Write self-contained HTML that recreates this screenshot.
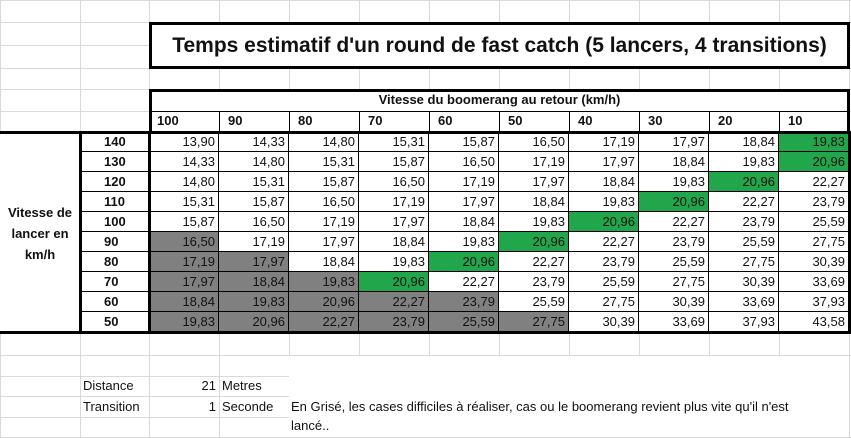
<!DOCTYPE html>
<html><head><meta charset="utf-8">
<style>
body{margin:0;width:851px;height:437px;overflow:hidden;background:#fff;font-family:"Liberation Sans",sans-serif;position:relative}
.a{position:absolute;box-sizing:border-box}
.c{font-size:13px;line-height:20px;text-align:right;padding-right:3px;color:#111}
.h{font-size:13px;font-weight:bold;line-height:20px;color:#111}
</style></head><body>
<div id="grid" class="a" style="left:0;top:0;width:851px;height:437px"></div>
<div id="root"></div>
<script>
const colHeaders=["100","90","80","70","60","50","40","30","20","10"];
const rowHeaders=["140","130","120","110","100","90","80","70","60","50"];
const values=[
["13,90","14,33","14,80","15,31","15,87","16,50","17,19","17,97","18,84","19,83"],
["14,33","14,80","15,31","15,87","16,50","17,19","17,97","18,84","19,83","20,96"],
["14,80","15,31","15,87","16,50","17,19","17,97","18,84","19,83","20,96","22,27"],
["15,31","15,87","16,50","17,19","17,97","18,84","19,83","20,96","22,27","23,79"],
["15,87","16,50","17,19","17,97","18,84","19,83","20,96","22,27","23,79","25,59"],
["16,50","17,19","17,97","18,84","19,83","20,96","22,27","23,79","25,59","27,75"],
["17,19","17,97","18,84","19,83","20,96","22,27","23,79","25,59","27,75","30,39"],
["17,97","18,84","19,83","20,96","22,27","23,79","25,59","27,75","30,39","33,69"],
["18,84","19,83","20,96","22,27","23,79","25,59","27,75","30,39","33,69","37,93"],
["19,83","20,96","22,27","23,79","25,59","27,75","30,39","33,69","37,93","43,58"]];
const grayCount=[0,0,0,0,0,1,2,3,5,6];
const greenCol=[9,9,8,7,6,5,4,3,-1,-1];

const colX=[0,80,149,219,289,359,429,499,569,639,709,779,849];
const rowY=[0,22,45,68,89,111,132,152,172,192,212,232,252,272,292,312,333,355,376,396,417,437];
const root=document.body;
function box(x,y,w,h,css){const d=document.createElement('div');d.className='a';d.style.cssText=`left:${x}px;top:${y}px;width:${w}px;height:${h}px;`+(css||'');root.appendChild(d);return d;}
colX.forEach(x=>{const g=box(x,0,1,437,'background:#d9d9d9');

});
rowY.forEach(y=>{const g=box(0,y,851,1,'background:#d9d9d9');

});
const note=box(289,356,562,81,'background:#fff');


box(849,356,1,81,'background:#d9d9d9');
const t=box(149,22,701,47,'background:#fff;border:3px solid #000;font-size:21px;font-weight:bold;line-height:41px;text-align:center;color:#111');
t.textContent="Temps estimatif d'un round de fast catch (5 lancers, 4 transitions)";


const hb=box(149,89,701,44,'background:#fff;border:3px solid #000;border-bottom:none');


const ht=box(149,90,701,21,'');ht.className='a h';
ht.style.cssText+='left:149px;top:90px;width:701px;height:21px;text-align:center';
ht.textContent="Vitesse du boomerang au retour (km/h)";


box(152,111,697,1,'background:#000');
colHeaders.forEach((c,i)=>{const d=box(colX[i+2],111,70,21,'');d.className='a h';
d.style.cssText=`left:${colX[i+2]}px;top:111px;width:70px;height:21px;padding-left:8px;`+(i>0?'border-left:1px solid #000':'');
d.textContent=c;

});
values.forEach((row,r)=>{
 const y=rowY[r+6],h=rowY[r+7]-y;
 const rh=box(80,y,69,h,'');rh.className='a h';
 rh.style.cssText=`left:80px;top:${y}px;width:69px;height:${h}px;padding-left:24px;border-bottom:1px solid #000;background:#fff`;
 rh.textContent=rowHeaders[r];
 
 
 row.forEach((v,i)=>{
  let bg='#fff';if(i<grayCount[r])bg='#808080';else if(i===greenCol[r])bg='#21a64b';
  const d=box(colX[i+2],y,70,h,'');d.className='a c';
  d.style.cssText=`left:${colX[i+2]}px;top:${y}px;width:70px;height:${h}px;background:${bg};border-right:1px solid #000;border-bottom:1px solid #000`;
  d.textContent=v;
  
  
 });
});
const ob=box(0,131,851,203,'border:3px solid #000');


box(0,134,80,197,'background:#fff');
box(79,131,3,203,'background:#000');
box(148,131,3,203,'background:#000');
const lt=box(0,202,80,70,'font-size:13px;font-weight:bold;line-height:21px;text-align:center;color:#111');
lt.innerHTML="Vitesse de<br>lancer en<br>km/h";


function txt(x,y,s,align,w,name){const d=box(x,y,w,20,`font-size:13px;line-height:20px;color:#111;text-align:${align}`);d.textContent=s;

return d;}
txt(83,376,"Distance","left",70,'distance-label');
txt(149,376,"21","right",67,'distance-value');
txt(222,376,"Metres","left",70,'distance-unit');
txt(83,397,"Transition","left",70,'transition-label');
txt(149,397,"1","right",67,'transition-value');
txt(222,397,"Seconde","left",70,'transition-unit');
txt(291,397,"En Grisé, les cases difficiles à réaliser, cas ou le boomerang revient plus vite qu'il n'est","left",560,'note-line-1');
txt(291,416,"lancé..","left",200,'note-line-2');
</script>
</body></html>
